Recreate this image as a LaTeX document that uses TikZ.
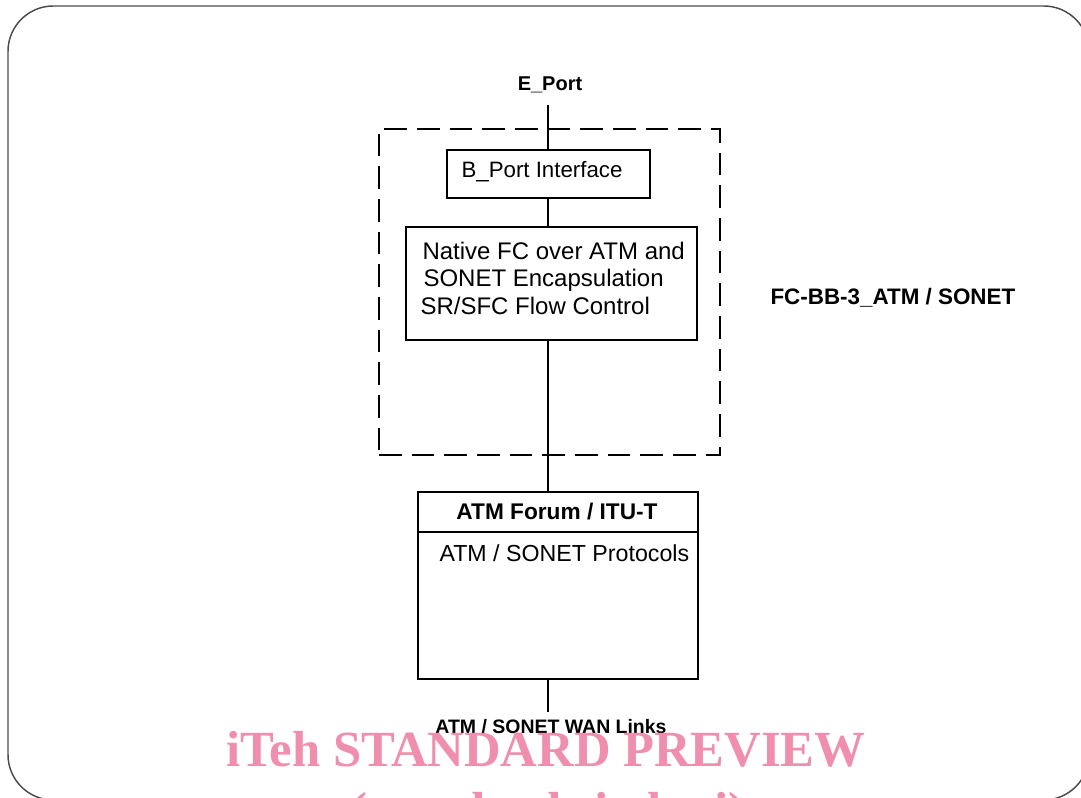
\documentclass[tikz,border=0pt]{standalone}
\usepackage{fontspec}
\setmainfont{Liberation Sans}
\newfontfamily\markfont{Liberation Serif}
\usetikzlibrary{calc}
\usepackage{xcolor}
\definecolor{markpink}{RGB}{239,143,173}

\begin{document}
\begin{tikzpicture}[x=0.75pt, y=-0.75pt, thick,
    box/.style={draw, rectangle, inner sep=0pt, line width=1.5pt},
    tag/.style={font=\fontsize{15}{18}\selectfont\bfseries, inner sep=0pt},
    head/.style={font=\fontsize{17}{20}\selectfont\bfseries, inner sep=0pt},
    body/.style={font=\fontsize{17}{20}\selectfont, inner sep=0pt},
    wmark/.style={font=\markfont\bfseries\fontsize{38}{41}\selectfont, text=markpink, inner sep=0pt}]
      \useasboundingbox (0,0) rectangle (1081,798);

      % frame
      \draw [black!70, line width=1.1pt, rounded corners=34pt] (8,6) rectangle (1089,800);

      % states
      \coordinate (center) at (548,0);

      \node [tag, anchor=base, name=eport] at (550,91) {E\_Port};

      \node [draw, dashed, dash pattern=on 17pt off 7.5pt, line width=1.1pt, inner sep=0pt,
      minimum width=255.75pt, minimum height=244.5pt, name=fcbb] at (549.5,292) {};
      \node [head, font=\fontsize{16.8}{20}\selectfont\bfseries, anchor=base west, name=fcbb_label] at
      (770,305) {FC-BB-3\_ATM / SONET};

      \node [box, minimum width=152.25pt, minimum height=36pt, name=bport] at (548.5,174) {};
      \node [body, font=\fontsize{16.7}{20}\selectfont, anchor=base west, name=bport_text] at
      (461,178) {B\_Port Interface};

      \node [box, minimum width=218.25pt, minimum height=84.75pt, name=native] at (551.5,283.5) {};
      \node [body, font=\fontsize{18}{21}\selectfont, anchor=base west, name=native_a] at (422,260) {Native FC over ATM and};
      \node [body, font=\fontsize{18}{21}\selectfont, anchor=base west, name=native_b] at (423,287) {SONET Encapsulation};
      \node [body, font=\fontsize{18}{21}\selectfont, anchor=base west, name=native_c] at (420,315) {SR/SFC Flow Control};

      \node [box, minimum width=210pt, minimum height=140.25pt, name=atm] at (557.5,585.5) {};
      \draw [-, line width=1.5pt] ($(atm.north west) + (0,41)$) -- ($(atm.north east) + (0,41)$);
      \node [head, anchor=base, name=atm_head] at (557,519) {ATM Forum / ITU-T};
      \node [body, font=\fontsize{17.4}{20}\selectfont, anchor=base west, name=atm_text] at
      (439,561) {ATM / SONET Protocols};

      \node [tag, font=\fontsize{14.6}{18}\selectfont\bfseries, anchor=base, name=wan] at
      (551,733) {ATM / SONET WAN Links};

      % links
      \draw [-, line width=1.5pt, shorten <=8pt] (eport.south -| center) -- (bport.north -| center);
      \draw [-, line width=1.5pt] (bport.south -| center) -- (native.north -| center);
      \draw [-, line width=1.5pt] (native.south -| center) -- (atm.north -| center);
      \draw [-, line width=1.5pt, shorten >=5pt] (atm.south -| center) -- (wan.north -| center);

      % watermark
      \node [wmark, anchor=base, name=mark] at (546,766) {iTeh STANDARD PREVIEW};
      \node [wmark, anchor=base, name=mark_site] at (548,827) {(standards.iteh.ai)};
    \end{tikzpicture}
\end{document}
